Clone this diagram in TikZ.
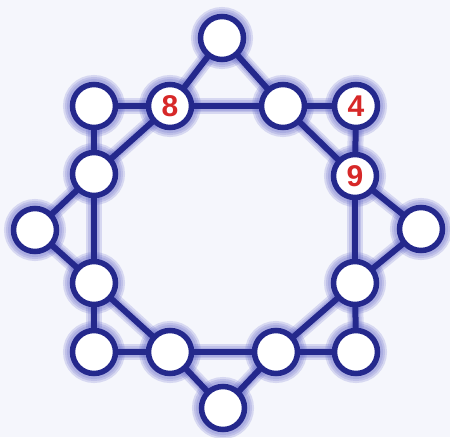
\documentclass[tikz,border=0pt]{standalone}
\usepackage{fontspec}
\setmainfont{Liberation Sans}
\definecolor{ringblue}{RGB}{36,40,140}
\definecolor{glowblue}{RGB}{95,100,200}
\definecolor{bgcol}{RGB}{245,246,252}
\definecolor{digitred}{RGB}{215,40,40}
\pgfdeclarelayer{bglayer}
\pgfdeclarelayer{glowlayer}
\pgfdeclarelayer{edgelayer}
\pgfsetlayers{bglayer,glowlayer,edgelayer,main}
\tikzset{
  spot/.style={circle, draw=ringblue, line width=5.5pt, fill=white, minimum size=43pt, inner sep=0pt,
    font=\fontsize{30}{30}\selectfont\bfseries, text=digitred},
  link/.style={draw=ringblue, line width=6pt},
  halo/.style={draw=glowblue, opacity=0.2, line width=#1}
}
\begin{document}
\begin{tikzpicture}[x=1pt,y=-1pt]
\begin{pgfonlayer}{bglayer}
\fill[bgcol] (0,0) rectangle (450,437);
\end{pgfonlayer}
\useasboundingbox (0,0) rectangle (450,437);
\node[spot] (t)  at (222,38) {};
\node[spot] (tl) at (94,106) {};
\node[spot] (e)  at (170,106) {8};
\node[spot] (f)  at (283,106) {};
\node[spot] (tr) at (356,106) {4};
\node[spot] (l1) at (94,174) {};
\node[spot] (r1) at (355,176) {9};
\node[spot] (lw) at (35,230) {};
\node[spot] (re) at (421,229) {};
\node[spot] (l2) at (94,283) {};
\node[spot] (r2) at (355,283) {};
\node[spot] (bl) at (94,352) {};
\node[spot] (b1) at (170,352) {};
\node[spot] (b2) at (276,352) {};
\node[spot] (br) at (356,352) {};
\node[spot] (bt) at (223,408) {};
\begin{pgfonlayer}{glowlayer}
  \foreach \n in {t,tl,e,f,tr,l1,r1,lw,re,l2,r2,bl,b1,b2,br,bt}{
    \foreach \w in {19,15,11}{
      \draw[halo=\w pt] (\n.center) circle (21.5pt);
    }
  }
  \foreach \a/\b in {e/f,f/r1,r1/r2,r2/b2,b2/b1,b1/l2,l2/l1,l1/e,
      tl/e,tl/l1,tr/f,tr/r1,br/r2,br/b2,bl/l2,bl/b1,
      t/e,t/f,re/r1,re/r2,bt/b1,bt/b2,lw/l1,lw/l2}{
    \foreach \w in {16,12,9}{
      \draw[halo=\w pt] (\a.center) -- (\b.center);
    }
  }
\end{pgfonlayer}
\begin{pgfonlayer}{edgelayer}
  \foreach \a/\b in {e/f,f/r1,r1/r2,r2/b2,b2/b1,b1/l2,l2/l1,l1/e,
      tl/e,tl/l1,tr/f,tr/r1,br/r2,br/b2,bl/l2,bl/b1,
      t/e,t/f,re/r1,re/r2,bt/b1,bt/b2,lw/l1,lw/l2}{
    \draw[link] (\a.center) -- (\b.center);
  }
\end{pgfonlayer}
\end{tikzpicture}
\end{document}
